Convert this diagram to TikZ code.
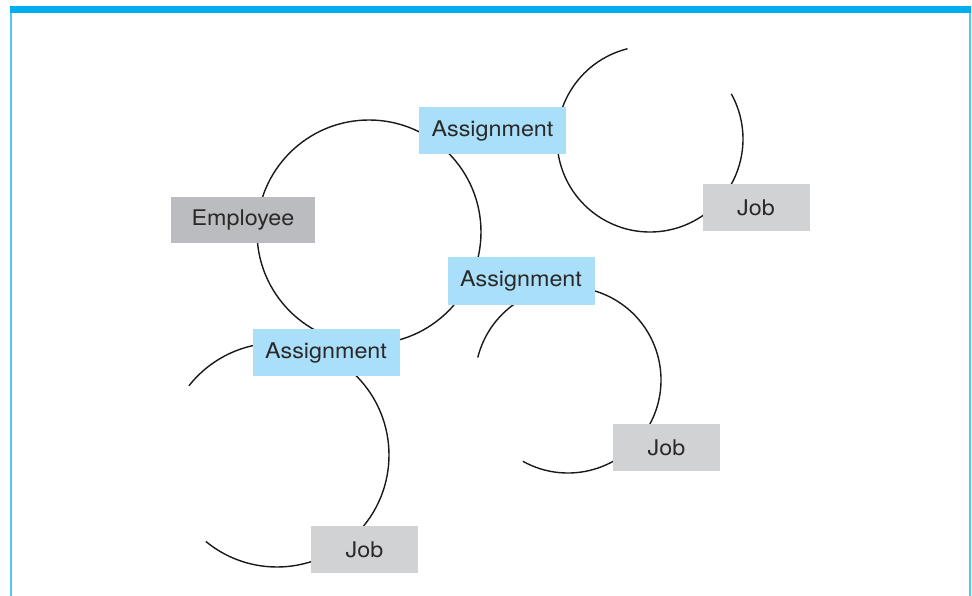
\documentclass[tikz,border=0pt]{standalone}
\usepackage{fontspec}
\setmainfont{TeX Gyre Heros}[FakeStretch=1.08]
\definecolor{framebar}{HTML}{00AEEF}
\definecolor{frameline}{HTML}{4FC8F4}
\definecolor{assignfill}{HTML}{A9DFF8}
\definecolor{jobfill}{HTML}{D1D2D4}
\definecolor{empfill}{HTML}{BBBCBF}
\definecolor{txt}{HTML}{2A2829}
\begin{document}
\begin{tikzpicture}[x=1pt,y=1pt,
  box/.style={rectangle,inner sep=0pt,text=txt,font=\fontsize{21.6}{25}\selectfont},
  assignbox/.style={box,fill=assignfill,minimum width=147pt,minimum height=47pt},
  jobbox/.style={box,fill=jobfill,minimum width=107pt,minimum height=47pt},
  empbox/.style={box,fill=empfill,minimum width=144pt,minimum height=46pt},
  ring/.style={draw=black!90,line width=1.4pt}]
\useasboundingbox (0,0) rectangle (972,-596);
% frame
\fill[frameline] (10,-10) rectangle (12,-596);
\fill[frameline] (968.5,-10) rectangle (970.5,-596);
\fill[framebar] (10,-6) rectangle (970.5,-13.3);
% circle centres
\coordinate (cE) at (369,-232);
\coordinate (cJ1) at (650,-139);
\coordinate (cJ2) at (568,-380);
\coordinate (cJ3) at (277,-455);
% circles
\draw[ring] (cE) circle[radius=112];
\draw[ring] ([shift={(104:93)}]cJ1) arc[start angle=104,end angle=389,radius=93];
\draw[ring] ([shift={(241:93)}]cJ2) arc[start angle=241,end angle=526,radius=93];
\draw[ring] ([shift={(230.5:112)}]cJ3) arc[start angle=230.5,end angle=501.8,radius=112];
% boxes
\node[empbox] (emp) at (243,-220) {Employee};
\node[assignbox] (a1) at (492.5,-131) {Assignment};
\node[assignbox] (a2) at (521,-281) {Assignment};
\node[assignbox] (a3) at (326,-352.5) {Assignment};
\node[jobbox] (j1) at (756,-207.5) {Job};
\node[jobbox] (j2) at (666.5,-447.5) {Job};
\node[jobbox] (j3) at (364.5,-549.5) {Job};
\end{tikzpicture}
\end{document}
